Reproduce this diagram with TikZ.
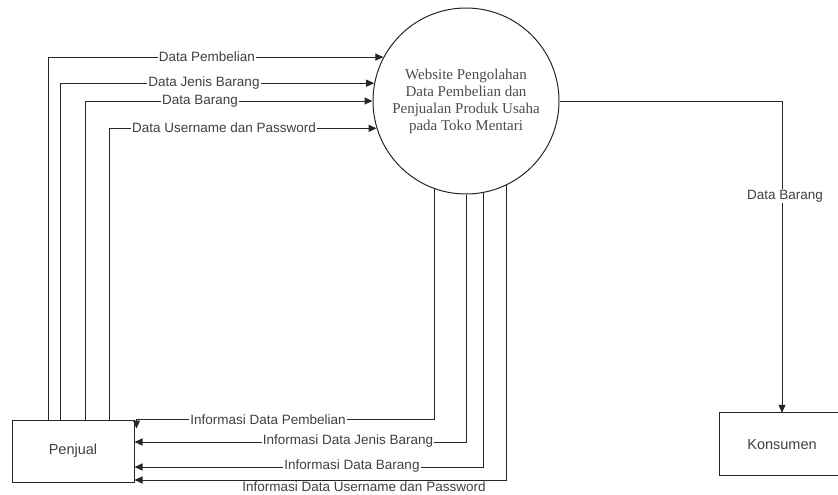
\documentclass[tikz,border=0pt]{standalone}
\usepackage{fontspec}
\setmainfont{Liberation Serif}
\setsansfont{Liberation Sans}
\usetikzlibrary{arrows.meta}
\begin{document}
\begin{tikzpicture}[x=1pt,y=-1pt,
  line/.style={draw=black!85, line width=1pt},
  flow/.style={line, -{Triangle[length=8pt,width=7pt]}},
  lbl/.style={fill=white, inner sep=1pt, font=\sffamily\fontsize{13.5}{15}\selectfont, text=black!75},
  ent/.style={rectangle, minimum width=122pt, minimum height=62pt, inner sep=0pt, font=\sffamily\fontsize{14.5}{16}\selectfont, text=black!75},
  proc/.style={line, circle, minimum size=186pt, inner sep=0pt, align=center, font=\fontsize{15}{17}\selectfont, text=black!70}]
\useasboundingbox (0,0) rectangle (838,495);

\node[proc] (circ) at (466,101) {Website Pengolahan\\Data Pembelian dan\\Penjualan Produk Usaha\\pada Toko Mentari};
\node[ent, line] (pj) at (73,451) {Penjual};
\node[ent, minimum width=124pt, minimum height=63pt] (ks) at (782,444.5) {Konsumen};
\draw[line] (ks.north west) rectangle ++(140,63);

% Penjual -> process
\draw[flow] (pj.north west) ++(37,0) |- (circ.152);
\draw[flow] (pj.north west) ++(49,0) |- (circ.169);
\draw[flow] (pj.north west) ++(74,0) |- (circ.180.5);
\draw[flow] (pj.north west) ++(98,0) |- (circ.197);
\node[lbl] at (207,57) {Data Pembelian};
\node[lbl] at (204,83) {Data Jenis Barang};
\node[lbl] at (200,101) {Data Barang};
\node[lbl] at (224,128) {Data Username dan Password};

% process -> Penjual
\draw[flow] (circ.250.5) |- ([xshift=2pt]pj.north east) -- ++(0,9);
\draw[flow] (circ.270) |- ([yshift=9pt]pj.east);
\draw[flow] (circ.281.2) |- ([yshift=-16pt]pj.east);
\draw[flow] (circ.296.9) |- ([yshift=-29pt]pj.east);
\node[lbl] at (268,420) {Informasi Data Pembelian};
\node[lbl] at (348,441) {Informasi Data Jenis Barang};
\node[lbl] at (352,466) {Informasi Data Barang};
\node[lbl] at (364,487) {Informasi Data Username dan Password};

% process -> Konsumen
\draw[flow] (circ.east) -| (ks.north);
\node[lbl] at (785,196) {Data Barang};
\end{tikzpicture}
\end{document}
